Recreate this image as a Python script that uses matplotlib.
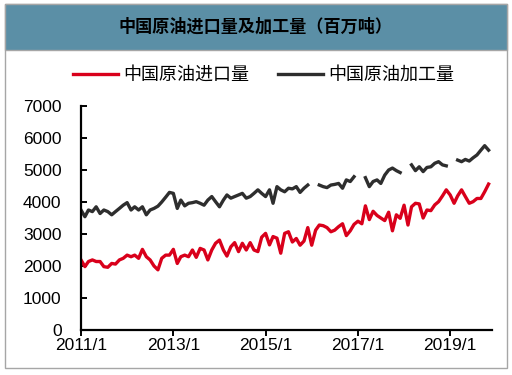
import numpy as np
import pandas as pd
import matplotlib
matplotlib.use("Agg")
import matplotlib.pyplot as plt
from matplotlib.patches import Rectangle

plt.rcParams['font.family'] = ['Liberation Sans', 'Noto Sans CJK SC']

# ----------------------------
# Data (monthly, 2011/1 - 2019/11)
# ----------------------------
months = pd.date_range("2011-01-01", periods=107, freq="MS")

imports = [
    2190, 1980, 2140, 2190, 2140, 2140, 1980, 1960, 2080, 2060, 2190, 2240,
    2340, 2290, 2340, 2240, 2520, 2290, 2190, 2000, 1880, 2240, 2340, 2340,
    2520, 2080, 2290, 2340, 2290, 2500, 2270, 2550, 2500, 2190, 2500, 2710,
    2810, 2500, 2310, 2600, 2730, 2450, 2710, 2500, 2730, 2500, 2450, 2900,
    3020, 2660, 2920, 2870, 2400, 3020, 3070, 2750, 2860, 2650, 2780, 3200,
    2650, 3120, 3280, 3260, 3200, 3070, 3120, 3230, 3320, 2950, 3100, 3300,
    3400, 3320, 3880, 3450, 3710, 3580, 3500, 3420, 3680, 3100, 3600, 3490,
    3900, 3280, 3850, 3960, 3940, 3500, 3750, 3730, 3910, 4010, 4190, 4380,
    4220, 3960, 4190, 4380, 4170, 3960, 4010, 4110, 4110, 4320, 4560,
]

nan = np.nan
processing = [
    3750, 3540, 3750, 3700, 3850, 3640, 3750, 3700, 3600, 3700, 3800, 3900,
    3980, 3750, 3850, 3750, 3850, 3600, 3750, 3800, 3870, 4000, 4150, 4300,
    4270, 3800, 4060, 3880, 3960, 3980, 4010, 3960, 3900, 4060, 4170, 4010,
    3850, 4060, 4220, 4120, 4170, 4220, 4270, 4120, 4170, 4270, 4380, 4270,
    4170, 4380, 3960, 4480, 4380, 4320, 4430, 4410, 4480, 4300, 4430, 4530,
    nan, nan, 4530, 4480, 4450, 4530, 4550, 4580, 4430, 4690, 4640, 4790,
    nan, nan, 4760, 4480, 4640, 4690, 4580, 4840, 5000, 5060, 4980, 4920,
    nan, nan, 5160, 4980, 5100, 4950, 5080, 5100, 5210, 5260, 5160, 5130,
    nan, nan, 5310, 5260, 5330, 5280, 5380, 5470, 5620, 5760, 5620,
]

tick_dates = pd.to_datetime(["2011-01-01", "2013-01-01", "2015-01-01",
                             "2017-01-01", "2019-01-01"])
tick_labels = ["2011/1", "2013/1", "2015/1", "2017/1", "2019/1"]

# ----------------------------
# Plot
# ----------------------------
W, H = 512, 375
fig = plt.figure(figsize=(W / 100, H / 100), dpi=100)

# outer frame + title bar
fig.patches.append(Rectangle((5 / W, 1 - 368 / H), 502 / W, 364 / H,
                             transform=fig.transFigure, facecolor="none",
                             edgecolor="#a6a6a6", lw=1, zorder=0))
fig.patches.append(Rectangle((5 / W, 1 - 50 / H), 502 / W, 46 / H,
                             transform=fig.transFigure, facecolor="#5b8fa6",
                             edgecolor="#a6a6a6", lw=1, zorder=1))
fig.text(0.5, 1 - 27 / H, "中国原油进口量及加工量（百万吨）", ha="center", va="center",
         fontsize=12.3, fontweight="bold", family=["Noto Sans CJK SC"], color="black")

ax = fig.add_axes([81 / W, 1 - 330 / H, 411 / W, 224 / H])
ax.set_zorder(2)
ax.patch.set_alpha(0)
ax.plot(months, imports, color="#d9001b", lw=2.4, label="中国原油进口量")
ax.plot(months, processing, color="#2e2e2e", lw=2.4, label="中国原油加工量")

ax.set_ylim(0, 7000)
ax.set_yticks(range(0, 7001, 1000))
ax.set_xlim(months[0], pd.Timestamp("2019-11-28"))
ax.set_xticks(tick_dates)
ax.set_xticklabels(tick_labels)

for s in ["top", "right"]:
    ax.spines[s].set_visible(False)
for s in ["left", "bottom"]:
    ax.spines[s].set_linewidth(1.6)
    ax.spines[s].set_color("black")
ax.tick_params(axis="y", direction="in", length=4, width=1.4, pad=14,
               labelsize=12.5, colors="black")
ax.tick_params(axis="x", direction="out", length=4, width=1.4, pad=2,
               labelsize=12.5, colors="black")

fig.legend(loc="center", bbox_to_anchor=(0.515, 1 - 75 / H), ncol=2,
           frameon=False, handlelength=2.5, handletextpad=0.3,
           columnspacing=1.6, prop={"family": "Noto Sans CJK SC", "size": 13})

plt.savefig("out.png", dpi=100)
